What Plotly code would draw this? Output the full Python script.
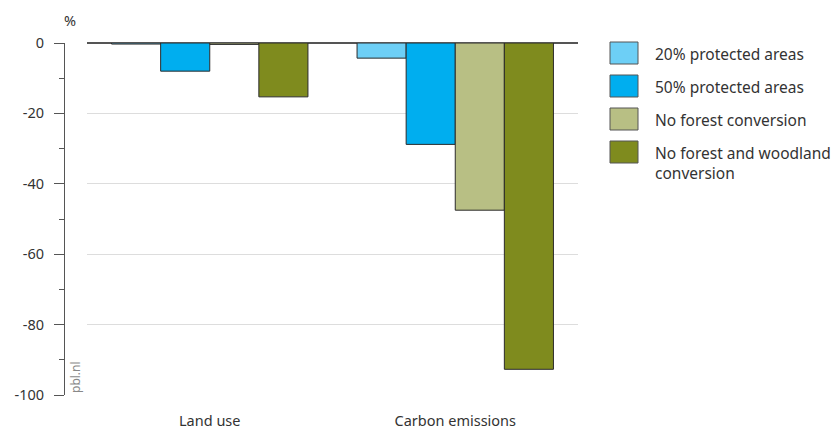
import plotly.graph_objects as go

categories = ["Land use", "Carbon emissions"]
series_names = ["20% protected areas", "50% protected areas", "No forest conversion",
                "No forest and woodland<br>conversion"]
values_20 = [-0.3, -4.3]
values_50 = [-8.0, -28.8]
values_noforest = [-0.4, -47.5]
values_nowood = [-15.3, -92.7]
colors = ["#6dcff6", "#00aeef", "#b8bf84", "#7f8b1e"]
y_ticks = [0, -20, -40, -60, -80, -100]

FONT = "Noto Sans"
TXT = "#333333"
OFF = 8  # page body margin

fig = go.Figure()
for name, vals, col in zip(series_names, [values_20, values_50, values_noforest, values_nowood], colors):
    fig.add_trace(go.Bar(x=categories, y=vals, name=name, marker=dict(color=col, line=dict(color="#2b2b2b", width=1)),
                         showlegend=False))

W, H = 840 - OFF, 429 - OFF
AX = 64
ml = AX - OFF
mt = 43 - OFF
mb = H - (395 - OFF)
mr = W - (578 - OFF)
pw = W - ml - mr
ph = H - mt - mb
dom0 = (87 - AX) / pw


def px(x):
    return (x - OFF - ml) / pw


def py(y):
    return (H - mb - (y - OFF)) / ph


fig.update_layout(
    width=W, height=H, margin=dict(l=ml, r=mr, t=mt, b=mb, autoexpand=False),
    plot_bgcolor="white", paper_bgcolor="white", showlegend=False,
    barmode="group", bargap=0.2, bargroupgap=0,
    font=dict(family=FONT, size=14, color=TXT),
    xaxis=dict(domain=[dom0, 1], showline=False, showgrid=False, ticks="outside", ticklen=13,
               automargin=False,
               tickcolor="rgba(0,0,0,0)", tickfont=dict(size=14.5, color=TXT)),
    yaxis=dict(range=[-100, 0], anchor="free", position=0, tickvals=y_ticks, automargin=False,
               ticktext=[str(v) for v in y_ticks], ticklabelstandoff=7,
               showline=True, linecolor="#555555", linewidth=1,
               ticks="outside", ticklen=10, tickcolor="#555555", tickwidth=1,
               showgrid=True, gridcolor="#dddddd", gridwidth=1,
               zeroline=True, zerolinecolor="#555555", zerolinewidth=1.5,
               minor=dict(dtick=10, ticks="outside", ticklen=5, tickcolor="#555555", showgrid=False),
               tickfont=dict(size=14.5, color=TXT)),
)

fig.add_annotation(text="%", xref="paper", yref="paper", x=px(70), y=py(20),
                   xanchor="center", yanchor="middle",
                   showarrow=False, font=dict(size=14.5, color=TXT))
fig.add_annotation(text="pbl.nl", xref="paper", yref="paper", x=px(75), y=py(395),
                   textangle=-90, xanchor="center", yanchor="bottom", showarrow=False,
                   font=dict(size=12, color="#888888"))

# custom legend
lx0, lx1 = 610, 638
row_y = [53, 86, 119, 152]
for name, col, yc in zip(series_names, colors, row_y):
    fig.add_shape(type="rect", xref="paper", yref="paper",
                  x0=px(lx0), x1=px(lx1),
                  y0=py(yc + 11), y1=py(yc - 11),
                  fillcolor=col, line=dict(color="#555555", width=1))
    fig.add_annotation(text=name, xref="paper", yref="paper", x=px(653),
                       y=py(yc - 12.5), xanchor="left", yanchor="top",
                       align="left", showarrow=False, font=dict(size=15.5, color=TXT))

fig.write_html("out.html")
